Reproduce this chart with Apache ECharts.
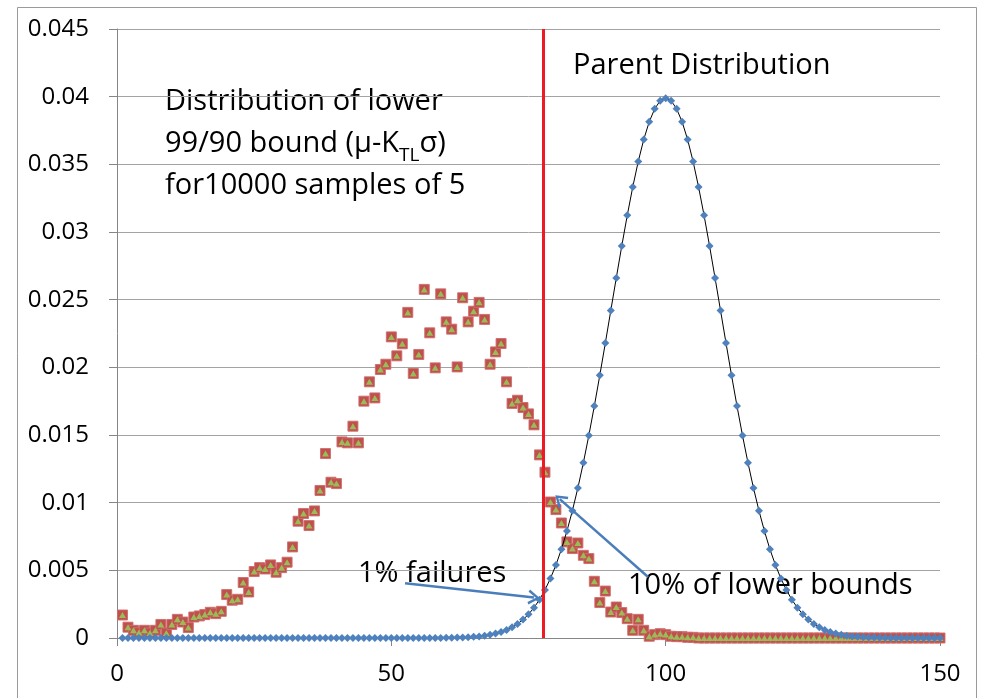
<!DOCTYPE html>
<html>
<head>
<meta charset="utf-8">
<script src="https://cdn.jsdelivr.net/npm/echarts@6.0.0/dist/echarts.min.js"></script>
<style>
  html, body { margin: 0; padding: 0; background: #fff; }
  #main { width: 982px; height: 698px; }
</style>
</head>
<body>
<div id="main"></div>
<script>
// x positions of the samples: 1, 2, ... 150
var xStart = 1;

// distribution of the lower 99/90 bound (histogram heights)
var lowerBound = [
  0.0017, 0.0008, 0.00057, 0.0004, 0.00057, 0.00037, 0.00057, 0.001, 0.00037, 0.001,
  0.00138, 0.00118, 0.00077, 0.00155, 0.00163, 0.00173, 0.0019, 0.0018, 0.00197, 0.00321,
  0.00279, 0.00286, 0.0041, 0.0034, 0.00491, 0.0052, 0.0051, 0.0054, 0.00486, 0.0052,
  0.0056, 0.00673, 0.00863, 0.0092, 0.00831, 0.00939, 0.0109, 0.01363, 0.01151, 0.01141,
  0.01449, 0.01442, 0.01565, 0.01442, 0.0175, 0.01893, 0.01774, 0.01984, 0.02023, 0.02225,
  0.02085, 0.02174, 0.02406, 0.01955, 0.02095, 0.02576, 0.02255, 0.01996, 0.02543, 0.02336,
  0.02282, 0.02003, 0.02514, 0.02336, 0.02415, 0.0248, 0.02354, 0.02023, 0.02114, 0.02176,
  0.01893, 0.01733, 0.01757, 0.01703, 0.01656, 0.01575, 0.01353, 0.01225, 0.01005, 0.00949,
  0.0085, 0.0071, 0.00661, 0.00702, 0.00611, 0.00587, 0.00419, 0.00262, 0.00347, 0.00192,
  0.00229, 0.00188, 0.00143, 0.00057, 0.00138, 0.00057, 0.00013, 0.00025, 0.00032, 0.00025,
  0.00013, 0.0001, 0.0001, 0.00005, 0.00005, 0, 0, 0, 0, 0,
  0, 0, 0, 0, 0, 0, 0, 0, 0, 0,
  0, 0, 0, 0, 0, 0, 0, 0, 0, 0,
  0, 0, 0, 0, 0, 0, 0, 0, 0, 0,
  0, 0, 0, 0, 0, 0, 0, 0, 0, 0
];

// parent distribution
var parent = [
  0, 0, 0, 0, 0, 0, 0, 0, 0, 0,
  0, 0, 0, 0, 0, 0, 0, 0, 0, 0,
  0, 0, 0, 0, 0, 0, 0, 0, 0, 0,
  0, 0, 0, 0, 0, 0, 0, 0, 0, 0,
  0, 0, 0, 0, 0, 0, 0, 0, 0, 0,
  0, 0, 0, 0, 0, 0, 0, 0, 0, 0.00001,
  0.00002, 0.00003, 0.00004, 0.00006, 0.00009, 0.00012, 0.00017, 0.00024, 0.00033, 0.00044,
  0.0006, 0.00079, 0.00104, 0.00136, 0.00175, 0.00224, 0.00283, 0.00355, 0.0044, 0.0054,
  0.00656, 0.0079, 0.00941, 0.01109, 0.01295, 0.01497, 0.01714, 0.01942, 0.02179, 0.0242,
  0.02661, 0.02897, 0.03123, 0.03332, 0.03521, 0.03683, 0.03814, 0.0391, 0.0397, 0.03989,
  0.0397, 0.0391, 0.03814, 0.03683, 0.03521, 0.03332, 0.03123, 0.02897, 0.02661, 0.0242,
  0.02179, 0.01942, 0.01714, 0.01497, 0.01295, 0.01109, 0.00941, 0.0079, 0.00656, 0.0054,
  0.0044, 0.00355, 0.00283, 0.00224, 0.00175, 0.00136, 0.00104, 0.00079, 0.0006, 0.00044,
  0.00033, 0.00024, 0.00017, 0.00012, 0.00009, 0.00006, 0.00004, 0.00003, 0.00002, 0.00001,
  0, 0, 0, 0, 0, 0, 0, 0, 0, 0
];

// the red line (mu - K*sigma) and the two annotation arrows, in data units
var boundX = 77.6;
var failuresArrow = [[52.5, 0.00404], [76.0, 0.00299]];
var boundsArrow = [[96.8, 0.00451], [80.7, 0.01026]];

function toPairs(values) {
  return values.map(function (v, i) { return [xStart + i, v]; });
}

var chartDom = document.getElementById('main');
var myChart = echarts.init(chartDom);

var font = 'Open Sans';
// open chevron arrow head
var arrowHead = 'path://M0,9 L6,0 L12,9 L10.2,10 L6,3.4 L1.8,10 Z';

var option = {
  animation: false,
  textStyle: { fontFamily: font },
  grid: { left: 117, right: 42, top: 29, bottom: 60 },
  xAxis: {
    type: 'value',
    min: 0,
    max: 150,
    interval: 50,
    axisLine: { show: true, lineStyle: { color: '#868686', width: 1 } },
    axisTick: { show: true, length: 8, lineStyle: { color: '#868686' } },
    splitLine: { show: false },
    axisLabel: { color: '#000', fontSize: 24, fontFamily: font, margin: 24 }
  },
  yAxis: {
    type: 'value',
    min: 0,
    max: 0.045,
    interval: 0.005,
    axisLine: { show: true, lineStyle: { color: '#868686', width: 1 } },
    axisTick: { show: true, length: 8, lineStyle: { color: '#868686' } },
    splitLine: { show: true, lineStyle: { color: '#a3a3a3', width: 1 } },
    axisLabel: { color: '#000', fontSize: 24, fontFamily: font, margin: 28 }
  },
  series: [
    {
      name: 'Parent Distribution',
      type: 'line',
      data: toPairs(parent),
      symbol: 'diamond',
      symbolSize: 8,
      showSymbol: true,
      lineStyle: { color: '#000', width: 1 },
      itemStyle: { color: '#4F81BD' }
    },
    {
      name: 'Lower bound',
      type: 'scatter',
      data: toPairs(lowerBound),
      symbol: 'rect',
      symbolSize: 10,
      itemStyle: { color: '#C0504D', borderColor: 'rgba(205,110,108,0.9)', borderWidth: 1, opacity: 1 },
      markLine: {
        silent: true,
        symbol: ['none', 'none'],
        label: { show: false },
        lineStyle: { color: '#ED1C24', width: 3, type: 'solid' },
        data: [
          [{ coord: [boundX, 0] }, { coord: [boundX, 0.045] }]
        ]
      }
    },
    {
      name: 'Lower bound (inner)',
      type: 'scatter',
      data: toPairs(lowerBound),
      symbol: 'triangle',
      symbolSize: [7, 6],
      itemStyle: { color: '#9BBB59', opacity: 1 },
      markLine: {
        silent: true,
        symbol: ['none', arrowHead],
        symbolSize: [15, 12],
        label: { show: false },
        lineStyle: { color: '#4A7EBB', width: 2.5, type: 'solid' },
        data: [
          [{ coord: failuresArrow[0] }, { coord: failuresArrow[1] }],
          [{ coord: boundsArrow[0] }, { coord: boundsArrow[1] }]
        ]
      }
    }
  ],
  graphic: [
    {
      type: 'rect', silent: true,
      shape: { x: 17.5, y: 7.5, width: 959, height: 700 },
      style: { fill: 'none', stroke: '#9a9a9a', lineWidth: 1 }
    },
    {
      type: 'text', x: 573, y: 66,
      style: { text: 'Parent Distribution', fontSize: 29, fontFamily: font, fill: '#000', verticalAlign: 'middle' }
    },
    {
      type: 'text', x: 165, y: 102,
      style: { text: 'Distribution of lower', fontSize: 29, fontFamily: font, fill: '#000', verticalAlign: 'middle' }
    },
    {
      type: 'text', x: 165, y: 144,
      style: {
        text: '{a|99/90 bound (\u03bc-K}{s|TL}{a|\u03c3)}',
        verticalAlign: 'middle',
        rich: {
          a: { fontSize: 29, fontFamily: font, fill: '#000' },
          s: { fontSize: 19, fontFamily: font, fill: '#000', padding: [23, 0, 0, 0] }
        }
      }
    },
    {
      type: 'text', x: 165, y: 186,
      style: { text: 'for10000 samples of 5', fontSize: 29, fontFamily: font, fill: '#000', verticalAlign: 'middle' }
    },
    {
      type: 'text', x: 358, y: 574,
      style: { text: '1% failures', fontSize: 29, fontFamily: font, fill: '#000', verticalAlign: 'middle' }
    },
    {
      type: 'text', x: 628, y: 586,
      style: { text: '10% of lower bounds', fontSize: 29, fontFamily: font, fill: '#000', verticalAlign: 'middle' }
    }
  ]
};

myChart.setOption(option);
</script>
</body>
</html>
